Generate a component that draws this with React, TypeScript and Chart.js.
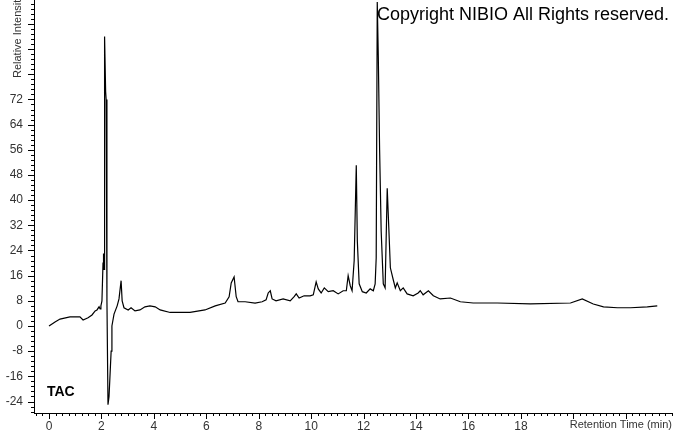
import React, { useEffect, useRef } from "react";
import { Chart, registerables } from "chart.js";

Chart.register(...registerables);

// Retention time (min)
const times = [
  0, 0.23, 0.42, 0.8, 1.18, 1.3, 1.49, 1.64, 1.76, 1.83, 1.91, 1.95, 1.98, 2.02, 2.06, 2.08, 2.1, 2.12, 2.16, 2.18,
  2.21, 2.25, 2.29, 2.37, 2.4, 2.48, 2.6, 2.67, 2.75, 2.79, 2.86, 3.02, 3.13, 3.28, 3.47, 3.66, 3.85, 4.05, 4.24,
  4.62, 5.38, 5.95, 6.34, 6.72, 6.87, 6.95, 7.06, 7.14, 7.21, 7.48, 7.86, 8.13, 8.28, 8.36, 8.44, 8.51, 8.66, 8.93,
  9.2, 9.35, 9.43, 9.54, 9.73, 9.96, 10.08, 10.19, 10.27, 10.38, 10.5, 10.65, 10.84, 11.03, 11.22, 11.34, 11.41,
  11.49, 11.56, 11.64, 11.72, 11.76, 11.83, 11.95, 12.1, 12.25, 12.37, 12.44, 12.48, 12.52, 12.56, 12.61, 12.67,
  12.75, 12.82, 12.9, 12.96, 13.02, 13.13, 13.21, 13.28, 13.4, 13.51, 13.66, 13.89, 14.08, 14.16, 14.27, 14.47,
  14.66, 14.92, 15.31, 15.69, 16.18, 17.1, 18.36, 19.89, 20.34, 20.76, 21.15, 21.68, 22.18, 22.82, 23.2,
];

// Relative intensity
const intensity = [
  0, 1.3, 2.2, 2.9, 2.9, 1.9, 2.6, 3.5, 4.8, 5.1, 6.1, 5.4, 6.4, 8, 20, 23, 18, 92, 74.5, 72,
  8, -25, -22.4, -8, 0, 3.8, 6.4, 8.6, 14.4, 8, 5.8, 5.1, 5.8, 4.8, 5.1, 6.1, 6.4, 6.1, 5.1,
  4.3, 4.3, 5.1, 6.4, 7.3, 9.3, 13.7, 15.6, 9.3, 7.7, 7.7, 7.3, 7.7, 8.3, 10.5, 11.2, 8.6, 8, 8.6,
  8, 9.3, 10.2, 8.9, 9.6, 9.6, 9.9, 14, 11.8, 10.5, 12.1, 10.9, 11.2, 10.2, 11.2, 11.2, 16,
  12.8, 11.2, 20.8, 51.1, 27, 13.4, 10.9, 10.5, 11.8, 11.2, 13.4, 21.7, 103, 85.6, 56, 30,
  13.4, 12.1, 43.8, 31.3, 18.5, 14.7, 12.1, 13.7, 11.2, 12.1, 10.2, 9.6, 10.5, 11.2, 9.9, 11.2,
  9.6, 8.6, 8.9, 7.7, 7.3, 7.3, 7, 7.3, 8.6, 7, 6.1, 5.8, 5.8, 6.1, 6.4,
];

const xTickLabels = [0, 2, 4, 6, 8, 10, 12, 14, 16, 18];
const yTickLabels = [-24, -16, -8, 0, 8, 16, 24, 32, 40, 48, 56, 64, 72];

const X_MIN = -0.572;
const X_MAX = 23.8;
const Y_MIN = -27.65;
const Y_MAX = 103.6;

const FONT = "'Liberation Sans', Arial, sans-serif";

const tickMarks = {
  id: "tickMarks",
  afterDraw(chart: any) {
    const ctx = chart.ctx;
    const xs = chart.scales.x;
    const ys = chart.scales.y;
    const area = chart.chartArea;
    ctx.save();
    ctx.strokeStyle = "#000";
    ctx.lineWidth = 1;
    ctx.beginPath();
    // y minor every 1.6, major every 8
    for (let k = -17; k <= 64; k++) {
      const v = k * 1.6;
      if (v < Y_MIN || v > Y_MAX) continue;
      const py = Math.round(ys.getPixelForValue(v)) + 0.5;
      const len = k % 5 === 0 ? 6 : 3;
      ctx.moveTo(area.left, py);
      ctx.lineTo(area.left - len, py);
    }
    // x minor every 0.25, major every 2
    for (let k = -2; k <= 96; k++) {
      const t = k * 0.25;
      if (t < X_MIN || t > X_MAX) continue;
      const px = Math.round(xs.getPixelForValue(t)) + 0.5;
      const len = k % 8 === 0 ? 6 : 3;
      ctx.moveTo(px, area.bottom);
      ctx.lineTo(px, area.bottom + len);
    }
    ctx.stroke();

    // texts
    ctx.fillStyle = "#000";
    ctx.font = `18px ${FONT}`;
    ctx.textAlign = "left";
    ctx.textBaseline = "alphabetic";
    ctx.fillText("Copyright NIBIO All Rights reserved.", 377, 20);

    ctx.font = `bold 14px ${FONT}`;
    ctx.textBaseline = "middle";
    ctx.fillText("TAC", 47, 392);

    ctx.fillStyle = "#333";
    ctx.font = `11px ${FONT}`;
    ctx.textAlign = "right";
    ctx.fillText("Retention Time (min)", 672, 425);

    ctx.translate(18, 78);
    ctx.rotate(-Math.PI / 2);
    ctx.textAlign = "left";
    ctx.fillText("Relative Intensity", 0, 0);
    ctx.restore();
  },
};

export default function App() {
  const ref = useRef<HTMLCanvasElement>(null);
  useEffect(() => {
    const prevMargin = document.body.style.margin;
    document.body.style.margin = "0";
    const chart = new Chart(ref.current!, {
      type: "line",
      data: {
        datasets: [
          {
            data: times.map((t, i) => ({ x: t, y: intensity[i] })),
            borderColor: "#000",
            borderWidth: 1.2,
            pointRadius: 0,
            tension: 0,
            fill: false,
          },
        ],
      },
      plugins: [tickMarks],
      options: {
        responsive: false,
        animation: false,
        layout: { padding: 0 },
        plugins: { legend: { display: false }, tooltip: { enabled: false }, title: { display: false } },
        scales: {
          x: {
            type: "linear",
            min: X_MIN,
            max: X_MAX,
            afterBuildTicks: (s: any) => {
              s.ticks = xTickLabels.map((v) => ({ value: v }));
            },
            afterFit: (s: any) => {
              s.height = 20;
              s.paddingLeft = 0;
              s.paddingRight = 0;
            },
            grid: { display: true, drawOnChartArea: false, drawTicks: false, color: "rgba(0,0,0,0)" },
            border: { display: true, color: "#000", width: 1 },
            ticks: {
              color: "#333",
              font: { family: FONT, size: 12 },
              padding: 6,
              maxRotation: 0,
              autoSkip: false,
            },
          },
          y: {
            type: "linear",
            min: Y_MIN,
            max: Y_MAX,
            afterBuildTicks: (s: any) => {
              s.ticks = yTickLabels.map((v) => ({ value: v }));
            },
            afterFit: (s: any) => {
              s.width = 34;
              s.paddingTop = 0;
              s.paddingBottom = 0;
            },
            grid: { display: true, drawOnChartArea: false, drawTicks: false, color: "rgba(0,0,0,0)" },
            border: { display: true, color: "#000", width: 1 },
            ticks: {
              color: "#333",
              font: { family: FONT, size: 12 },
              padding: 11,
              autoSkip: false,
            },
          },
        },
      },
    });
    return () => {
      chart.destroy();
      document.body.style.margin = prevMargin;
    };
  }, []);
  return (
    <div style={{ position: "fixed", left: 0, top: 0, width: 673, height: 433, background: "#fff" }}>
      <canvas ref={ref} width={673} height={433} style={{ display: "block", width: 673, height: 433 }} />
    </div>
  );
}
